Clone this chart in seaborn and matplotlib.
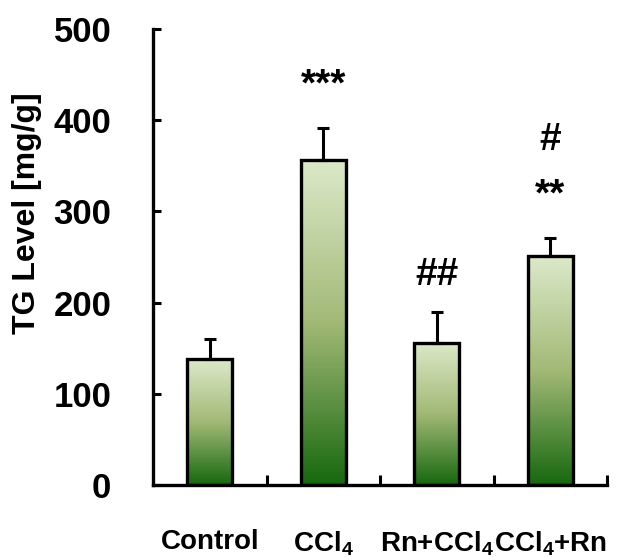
import numpy as np
import pandas as pd
import seaborn as sns
import matplotlib.pyplot as plt
from matplotlib.colors import LinearSegmentedColormap
from matplotlib.ticker import FixedLocator

groups = ["Control", "CCl$_4$", "Rn+CCl$_4$", "CCl$_4$+Rn"]
tg_mean = [138, 356, 156, 251]
tg_err = [22, 36, 34, 20]
marks = ["", "***", "##", "**"]
mark_y = [0, 438, 230, 317]
extra_marks = ["", "", "", "#"]
extra_y = [0, 0, 0, 378]

sns.set_style("ticks")
plt.rcParams["font.family"] = ["Liberation Sans", "DejaVu Sans"]
plt.rcParams["font.weight"] = "bold"
plt.rcParams["mathtext.default"] = "regular"
for key in ["text.color", "axes.labelcolor", "xtick.color", "ytick.color", "axes.edgecolor"]:
    plt.rcParams[key] = "black"

df = pd.DataFrame({"group": groups, "tg": tg_mean})

fig = plt.figure(figsize=(6.24, 5.6), dpi=100)
ax = fig.add_axes([0.2452, 0.1339, 0.7276, 0.8143])

sns.barplot(data=df, x="group", y="tg", ax=ax, width=0.4,
            facecolor="none", edgecolor="black", linewidth=2.4, zorder=3)

# vertical gradient inside each bar
cmap = LinearSegmentedColormap.from_list(
    "grn", ["#dce9c9", "#a2b976", "#17680f"])
grad = np.linspace(0, 1, 256).reshape(-1, 1)
for patch in ax.patches:
    x0, y0 = patch.get_x(), patch.get_y()
    w, h = patch.get_width(), patch.get_height()
    im = ax.imshow(grad, cmap=cmap, aspect="auto", zorder=2,
                   extent=[x0, x0 + w, y0, y0 + h], origin="upper")
    im.set_clip_path(patch)

ax.errorbar(range(len(groups)), tg_mean, yerr=[[0] * 4, tg_err], fmt="none",
            ecolor="black", elinewidth=2.2, capsize=4, capthick=2.2, zorder=4)

for i, (m, y) in enumerate(zip(marks, mark_y)):
    if m:
        ax.text(i, y, m, ha="center", va="center", fontsize=28, fontweight="bold")
for i, (m, y) in enumerate(zip(extra_marks, extra_y)):
    if m:
        ax.text(i, y, m, ha="center", va="center", fontsize=28, fontweight="bold")

ax.set_xlim(-0.5, 3.5)
ax.set_ylim(0, 500)
ax.set_yticks(range(0, 501, 100))
ax.xaxis.set_minor_locator(FixedLocator([0.5, 1.5, 2.5, 3.5]))
ax.tick_params(axis="y", direction="in", length=6, width=2.2, pad=30, labelsize=25)
ax.tick_params(axis="x", which="major", length=0, pad=32, labelsize=20)
ax.tick_params(axis="x", which="minor", direction="in", length=7, width=2.2)
for lab in ax.get_xticklabels() + ax.get_yticklabels():
    lab.set_fontweight("bold")

ax.set_xlabel("")
ax.set_ylabel("TG Level [mg/g]", fontsize=23, fontweight="bold")
ax.yaxis.set_label_coords(-0.245, 0.596)

sns.despine(ax=ax)
for s in ["left", "bottom"]:
    ax.spines[s].set_linewidth(2.4)

fig.savefig("out.png", dpi=100)
